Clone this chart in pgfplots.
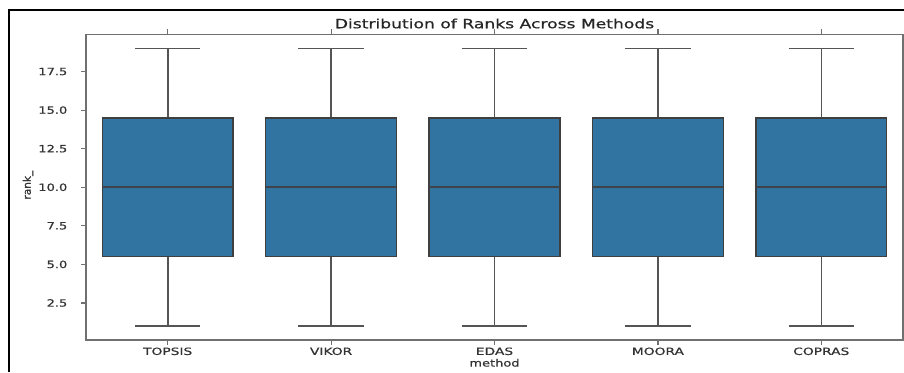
\documentclass[border=0pt]{standalone}
\usepackage{fontspec}
\setmainfont{DejaVu Sans}
\newfontfamily\chartfont{DejaVu Sans}[FakeBold=0.6]
\usepackage{pgfplots}
\pgfplotsset{compat=1.18}
\usepgfplotslibrary{statistics}
\definecolor{boxblue}{HTML}{3274A1}
\definecolor{edgegray}{HTML}{3F3F3F}
\definecolor{whiskgray}{HTML}{555555}
\definecolor{spinegray}{HTML}{707070}

\begin{document}
\begin{tikzpicture}[x=1pt,y=1pt]
\path[use as bounding box] (0,0) rectangle (904,372);
% outer frame
\draw[black, line width=2.2pt] (9.3,0) -- (9.3,362) -- (905,362);
\begin{axis}[
  at={(86pt,32pt)}, anchor=south west,
  width=817pt, height=305.5pt, scale only axis,
  xmin=-0.5, xmax=4.5, ymin=0.1, ymax=19.9,
  xtick={0,1,2,3,4},
  xticklabels={TOPSIS,VIKOR,EDAS,MOORA,COPRAS},
  ytick={2.5,5,7.5,10,12.5,15,17.5},
  tick align=outside, major tick length=5pt,
  axis line style={spinegray, line width=1.4pt},
  tick style={spinegray, line width=1.2pt},
  yticklabel={\pgfmathprintnumber[fixed,fixed zerofill,precision=1,assume math mode=true]{\tick}},
  yticklabel style={font=\chartfont\fontsize{10}{12}\selectfont,
    text=black!80, anchor=east, xscale=1.3, xshift=-7pt},
  xticklabel style={font=\chartfont\fontsize{10}{12}\selectfont, text=black!80, xscale=1.38,
    yshift=1pt},
  title={Distribution of Ranks Across Methods},
  title style={font=\chartfont\fontsize{12.8}{15}\selectfont, text=black!85, xscale=1.34,
    at={(axis description cs:0.5,1)}, anchor=center, yshift=5pt},
  xlabel={method},
  xlabel style={font=\chartfont\fontsize{10}{12}\selectfont, text=black!80, xscale=1.3,
    yshift=3pt},
  ylabel={rank\_},
  ylabel style={font=\chartfont\fontsize{10.5}{12}\selectfont, text=black!80,
    at={(axis description cs:-0.071,0.507)}, anchor=center},
  boxplot/draw direction=y,
  boxplot/every box/.style={draw=edgegray, fill=boxblue, line width=1.5pt},
  boxplot/every median/.style={draw=edgegray!90!boxblue, line width=1.6pt},
  boxplot/every whisker/.style={draw=whiskgray, line width=1.6pt},
]
% ranks 1..19 for every method
\addplot+[boxplot prepared={draw position=0, lower whisker=1, lower quartile=5.5,
  median=10, upper quartile=14.5, upper whisker=19, box extend=0.8, whisker extend=0.4},
  mark=none, draw=whiskgray] coordinates {};
\addplot+[boxplot prepared={draw position=1, lower whisker=1, lower quartile=5.5,
  median=10, upper quartile=14.5, upper whisker=19, box extend=0.8, whisker extend=0.4},
  mark=none, draw=whiskgray] coordinates {};
\addplot+[boxplot prepared={draw position=2, lower whisker=1, lower quartile=5.5,
  median=10, upper quartile=14.5, upper whisker=19, box extend=0.8, whisker extend=0.4},
  mark=none, draw=whiskgray] coordinates {};
\addplot+[boxplot prepared={draw position=3, lower whisker=1, lower quartile=5.5,
  median=10, upper quartile=14.5, upper whisker=19, box extend=0.8, whisker extend=0.4},
  mark=none, draw=whiskgray] coordinates {};
\addplot+[boxplot prepared={draw position=4, lower whisker=1, lower quartile=5.5,
  median=10, upper quartile=14.5, upper whisker=19, box extend=0.8, whisker extend=0.4},
  mark=none, draw=whiskgray] coordinates {};
\end{axis}
\end{tikzpicture}
\end{document}
